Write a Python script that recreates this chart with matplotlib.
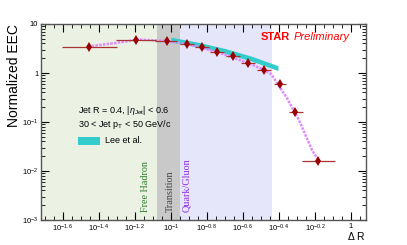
import numpy as np
import matplotlib
matplotlib.use("Agg")
import matplotlib.pyplot as plt
from matplotlib.ticker import FixedLocator, FuncFormatter, LogLocator, NullFormatter

plt.rcParams['font.family'] = ['Liberation Sans', 'DejaVu Sans']
plt.rcParams['mathtext.fontset'] = 'custom'
plt.rcParams['mathtext.rm'] = 'Liberation Sans'
plt.rcParams['mathtext.it'] = 'Liberation Sans:italic'

# STAR data points
dr = [0.035, 0.064, 0.095, 0.123, 0.149, 0.180, 0.221, 0.268, 0.329, 0.404, 0.489, 0.656]
eec = [3.4, 4.7, 4.5, 3.9, 3.4, 2.7, 2.2, 1.6, 1.15, 0.60, 0.160, 0.016]
dr_lo = [0.0248, 0.0495, 0.082, 0.112, 0.137, 0.165, 0.203, 0.246, 0.302, 0.372, 0.450, 0.535]
dr_hi = [0.050, 0.0826, 0.108, 0.135, 0.163, 0.197, 0.241, 0.292, 0.358, 0.438, 0.541, 0.815]

# PYTHIA-like curve (magenta)
curve_x = [0.0364, 0.0494, 0.0664, 0.0938, 0.123, 0.180, 0.268, 0.329, 0.360, 0.441, 0.514, 0.607, 0.647]
curve_y = [3.56, 4.09, 4.83, 4.50, 3.91, 2.69, 1.60, 1.15, 0.955, 0.309, 0.110, 0.0269, 0.0184]

# Lee et al. band
lee_x = [0.100, 0.141, 0.200, 0.282, 0.393]
lee_y = [4.8, 3.8, 2.82, 1.95, 1.26]
lee_hw = 0.05  # half width in decades

fig = plt.figure(figsize=(4.07, 2.45), dpi=100)
ax = fig.add_axes([41/407, 25/245, 325/407, 196/245])
ax.set_xscale('log')
ax.set_yscale('log')
xmin, xmax = 10**-1.72, 10**0.083
ax.set_xlim(xmin, xmax)
ax.set_ylim(1e-3, 10)

# region shading
ax.axvspan(xmin, 10**-1.078, color='#ebf2e4', lw=0, zorder=0)
ax.axvspan(10**-1.078, 10**-0.95, color='#c9c9c9', lw=0, zorder=0)
ax.axvspan(10**-0.95, 10**-0.44, color='#e6e6fa', lw=0, zorder=0)

lx = np.array(lee_x)
ly = np.array(lee_y)
ax.fill_between(lx, ly / 10**lee_hw, ly * 10**lee_hw, color='#33cccc', lw=0, zorder=2)

ax.plot(curve_x, curve_y, color='#e08aff', lw=1.8, dashes=(1.0, 0.5), zorder=3)

x = np.array(dr)
ax.errorbar(x, eec, xerr=[x - np.array(dr_lo), np.array(dr_hi) - x], fmt='none',
            ecolor='#aa3333', elinewidth=0.9, capsize=0, zorder=4)
ax.plot(dr, eec, ls='none', marker='d', ms=5.5, mew=0, color='#990000', zorder=5)

# ticks
majors = 10**np.arange(-1.6, 0.01, 0.2)
minors = 10**np.arange(-1.70, 0.09, 0.05)
ax.xaxis.set_major_locator(FixedLocator(majors))
ax.xaxis.set_minor_locator(FixedLocator(minors))

def xfmt(v, pos):
    e = round(np.log10(v), 1)
    if abs(e) < 1e-6:
        return '1'
    if abs(e - round(e)) < 1e-6:
        return r'$10^{%d}$' % round(e)
    return r'$10^{%.1f}$' % e

ax.xaxis.set_major_formatter(FuncFormatter(xfmt))
ax.xaxis.set_minor_formatter(NullFormatter())

def yfmt(v, pos):
    e = int(round(np.log10(v)))
    if e == 1:
        return '10'
    if e == 0:
        return '1'
    return r'$10^{%d}$' % e

ax.yaxis.set_major_locator(LogLocator(base=10, numticks=10))
ax.yaxis.set_minor_locator(LogLocator(base=10, subs=np.arange(2, 10), numticks=10))
ax.yaxis.set_major_formatter(FuncFormatter(yfmt))
ax.yaxis.set_minor_formatter(NullFormatter())

ax.tick_params(which='both', direction='in', top=True, right=True, labelsize=5.5, colors='black', pad=2)
ax.tick_params(which='major', length=6, width=0.8)
ax.tick_params(which='minor', length=3, width=0.6)
for s in ax.spines.values():
    s.set_linewidth(1.0)
    s.set_color('#555555')

fig.text(14/407, 1 - 24/245, 'Normalized EEC', rotation=90, ha='center', va='top', fontsize=10)
fig.text(366/407, 1 - 242/245, r'$\Delta$ R', ha='right', va='bottom', fontsize=7.5)

ax.text(0.115, 0.56, r'Jet R = 0.4, |$\eta_{\rm Jet}$| < 0.6', transform=ax.transAxes, fontsize=6.5, va='center')
ax.text(0.115, 0.485, r'30 < Jet p$_{\rm T}$ < 50 GeV/c', transform=ax.transAxes, fontsize=6.5, va='center')
ax.add_patch(plt.Rectangle((0.115, 0.385), 0.068, 0.04, transform=ax.transAxes, color='#33cccc', lw=0))
ax.text(0.198, 0.405, 'Lee et al.', transform=ax.transAxes, fontsize=6.5, va='center')

ax.text(0.675, 0.935, 'STAR', transform=ax.transAxes, fontsize=8, color='#ff0000', fontweight='bold', va='center')
ax.text(0.777, 0.935, 'Preliminary', transform=ax.transAxes, fontsize=8, color='#ff0000', style='italic', va='center')

ax.text(10**-1.14, 1.45e-3, 'Free Hadron', rotation=90, family='Liberation Serif', fontsize=7.3,
        color='#2e7d2e', ha='center', va='bottom')
ax.text(10**-1.005, 1.45e-3, 'Transition', rotation=90, family='Liberation Serif', fontsize=7.3,
        color='#444444', ha='center', va='bottom')
ax.text(10**-0.91, 1.45e-3, 'Quark/Gluon', rotation=90, family='Liberation Serif', fontsize=7.3,
        color='#8a2be2', ha='center', va='bottom')

fig.savefig('out.png', dpi=100)
